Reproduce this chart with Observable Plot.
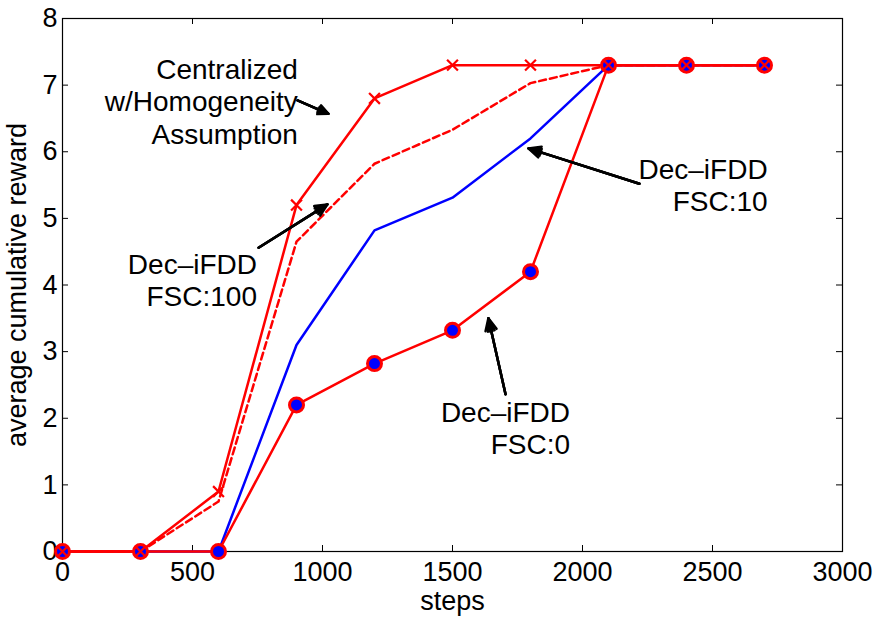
<!DOCTYPE html>
<html><head><meta charset="utf-8">
<script src="https://cdn.jsdelivr.net/npm/d3@7"></script>
<script src="https://cdn.jsdelivr.net/npm/@observablehq/plot@0.6"></script>
<style>body{margin:0;background:#fff}</style>
</head><body><div id="chart"></div>
<script>
const steps = [0, 300, 600, 900, 1200, 1500, 1800, 2100, 2400, 2700];
const centralized = [0, 0, 0.9, 5.2, 6.8, 7.3, 7.3, 7.3, 7.3, 7.3];
const fsc100 = [0, 0, 0.75, 4.65, 5.82, 6.33, 7.03, 7.3, 7.3, 7.3];
const fsc10 = [0, 0, 0, 3.1, 4.82, 5.31, 6.2, 7.3, 7.3, 7.3];
const fsc0 = [0, 0, 0, 2.2, 2.82, 3.32, 4.2, 7.3, 7.3, 7.3];
const xTicks = [0, 500, 1000, 1500, 2000, 2500, 3000];
const yTicks = [0, 1, 2, 3, 4, 5, 6, 7, 8];

// annotation labels (text anchor point, right-aligned) and arrows
const labelText = ["Centralized\nw/Homogeneity\nAssumption", "Dec\u2013iFDD\nFSC:100", "Dec\u2013iFDD\nFSC:10", "Dec\u2013iFDD\nFSC:0"];
const labelX = [905, 748, 2712, 1952];
const labelY = [6.76, 4.08, 5.5, 1.86];
const arrowX1 = [904, 754, 2219, 1704];
const arrowY1 = [6.77, 4.56, 5.52, 2.36];
const arrowX2 = [1023, 1019, 1792, 1638];
const arrowY2 = [6.57, 5.21, 6.05, 3.5];

const toRows = (ys) => steps.map((s, i) => ({x: s, y: ys[i]}));
const labels = labelText.map((t, i) => ({t, x: labelX[i], y: labelY[i]}));
const arrows = arrowX1.map((x1, i) => ({x1, y1: arrowY1[i], x2: arrowX2[i], y2: arrowY2[i]}));

const W = 878, H = 617, mL = 62, mR = 36, mT = 18, mB = 66;
const pw = W - mL - mR, ph = H - mT - mB;
const tick = 6;
const red = "#ff0000", blue = "#0000ff";
const font = "'Liberation Sans', Arial, Helvetica, sans-serif";

const arrowMarks = [50, 30, 12].map(a => Plot.arrow(arrows, {
  x1: "x1", y1: "y1", x2: "x2", y2: "y2", stroke: "black", strokeWidth: 2.5,
  headAngle: a, headLength: 8
}));

const chart = Plot.plot({
  width: W, height: H,
  marginLeft: mL, marginRight: mR, marginTop: mT, marginBottom: mB,
  style: {fontFamily: font, fontSize: "27px", background: "white", color: "black"},
  x: {domain: [0, 3000]},
  y: {domain: [0, 8]},
  marks: [
    Plot.axisX(xTicks, {tickSize: 0, tickPadding: 10, fontSize: 27, tickFormat: d => String(d), label: "steps", labelAnchor: "center", labelOffset: 58, labelArrow: "none"}),
    Plot.axisY(yTicks, {tickSize: 0, tickPadding: 5, fontSize: 27, tickFormat: d => String(d), label: "average cumulative reward", labelAnchor: "center", labelOffset: 56, labelArrow: "none"}),
    Plot.tickX(xTicks, {x: d => d, stroke: "black", strokeWidth: 1, insetTop: ph - tick}),
    Plot.tickX(xTicks, {x: d => d, stroke: "black", strokeWidth: 1, insetBottom: ph - tick}),
    Plot.tickY(yTicks, {y: d => d, stroke: "black", strokeWidth: 1, insetRight: pw - tick}),
    Plot.tickY(yTicks, {y: d => d, stroke: "black", strokeWidth: 1, insetLeft: pw - tick}),
    Plot.frame({stroke: "black", strokeWidth: 1.2}),
    Plot.line(toRows(fsc10), {x: "x", y: "y", stroke: blue, strokeWidth: 2.5}),
    Plot.line(toRows(fsc100), {x: "x", y: "y", stroke: red, strokeWidth: 2.5, strokeDasharray: "7,4"}),
    Plot.line(toRows(centralized), {x: "x", y: "y", stroke: red, strokeWidth: 2.5}),
    Plot.line(toRows(fsc0), {x: "x", y: "y", stroke: red, strokeWidth: 2.5}),
    Plot.dot(toRows(fsc0), {x: "x", y: "y", r: 7, fill: blue, stroke: red, strokeWidth: 3}),
    Plot.dot(toRows(centralized), {x: "x", y: "y", symbol: "times", r: 5, stroke: red, strokeWidth: 2.2}),
    ...arrowMarks,
    Plot.text(labels, {x: "x", y: "y", text: "t", textAnchor: "end", lineAnchor: "middle", lineHeight: 1.15, fontSize: 28, fill: "black"})
  ]
});
document.getElementById("chart").appendChild(chart);
</script>
</body></html>
